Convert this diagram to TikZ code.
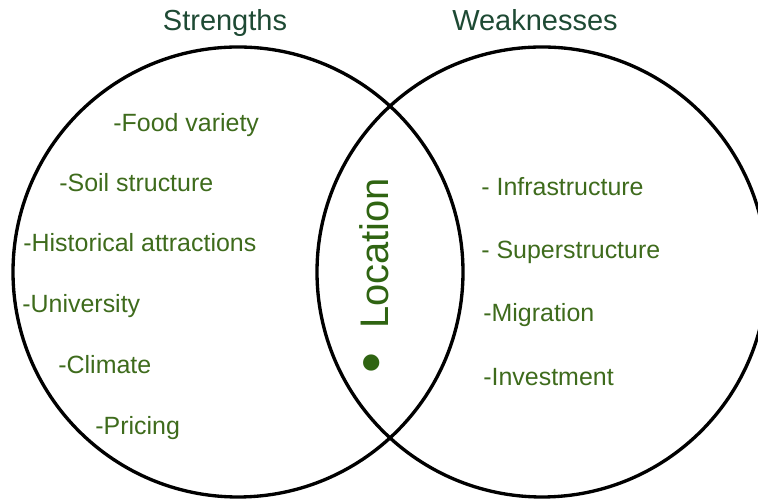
\documentclass[tikz,border=0pt]{standalone}
\usepackage{fontspec}
\setmainfont{Liberation Sans}
\usepackage{tikz}
\definecolor{headgreen}{HTML}{1E4A34}
\definecolor{itemgreen}{HTML}{3E6B1C}
\definecolor{locgreen}{HTML}{2F6412}
\tikzset{
	head/.style={text=headgreen, anchor=base, font=\fontsize{16.5}{18}\selectfont},
	item/.style={text=itemgreen, anchor=base west, font=\fontsize{14.2}{16}\selectfont, inner sep=0pt},
	ring/.style={line width=1.9pt}
}

\begin{document}
\begin{tikzpicture}
				\useasboundingbox (0,0) rectangle (15.16,10);
				
				\draw[ring] (4.76,4.56) circle (4.5);
				\draw[ring] (10.84,4.56) circle (4.5);
				
				\node[head] (strengths) at (4.5,9.38) {Strengths};
				\node[head] (weaknesses) at (10.7,9.38) {Weaknesses};
				
				\node[item] (food) at (2.26,7.36) {-Food variety};
				\node[item] (soil) at (1.18,6.16) {-Soil structure};
				\node[item] (hist) at (0.46,4.96) {-Historical attractions};
				\node[item] (uni) at (0.44,3.74) {-University};
				\node[item] (climate) at (1.16,2.52) {-Climate};
				\node[item] (pricing) at (1.9,1.30) {-Pricing};
				
				\node[item] (infra) at (9.62,6.08) {- Infrastructure};
				\node[item] (super) at (9.62,4.82) {- Superstructure};
				\node[item] (migr) at (9.66,3.56) {-Migration};
				\node[item] (invest) at (9.66,2.28) {-Investment};
				
				\node[text=locgreen, rotate=90, anchor=base, inner sep=0pt, font=\fontsize{22.7}{24}\selectfont] (loc) at (7.76,4.48) {\raisebox{-2pt}{\scalebox{1.5}{\textbullet}}\hspace{0.6em}Location};
\end{tikzpicture}
\end{document}
